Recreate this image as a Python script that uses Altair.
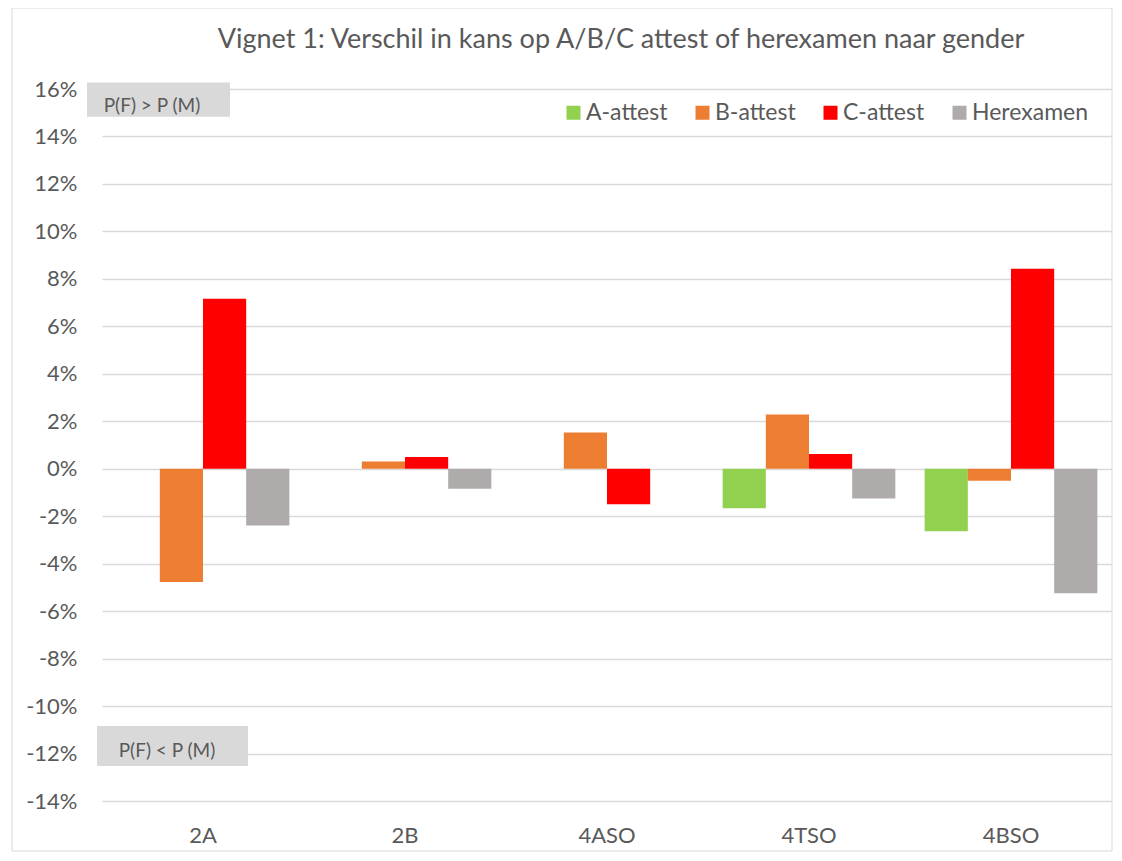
import altair as alt
import pandas as pd

title_text = "Vignet 1: Verschil in kans op A/B/C attest of herexamen naar gender"
categories = ["2A", "2B", "4ASO", "4TSO", "4BSO"]
series = ["A-attest", "B-attest", "C-attest", "Herexamen"]
colors = ["#92D050", "#ED7D31", "#FF0000", "#AFABAB"]
a_attest = [None, None, None, -1.67, -2.63]
b_attest = [-4.77, 0.31, 1.53, 2.29, -0.51]
c_attest = [7.16, 0.49, -1.50, 0.62, 8.43]
herexamen = [-2.39, -0.84, None, -1.25, -5.25]
y_ticks = list(range(-14, 17, 2))

rows = []
for name, vals in zip(series, [a_attest, b_attest, c_attest, herexamen]):
    for cat, v in zip(categories, vals):
        if v is not None:
            rows.append({"cat": cat, "serie": name, "value": v})
df = pd.DataFrame(rows)

FONT = "Lato"
GREY_TXT = "#595959"
W, H = 1010, 712

x_enc = alt.X("cat:N", sort=categories,
              scale=alt.Scale(paddingInner=0.145, paddingOuter=0.0725),
              axis=alt.Axis(title=None, labelAngle=0, domain=False, ticks=False,
                            labelFontSize=22, labelColor=GREY_TXT, labelFont=FONT,
                            labelPadding=24))
y_scale = alt.Scale(domain=[-14, 16], nice=False, zero=False)

bars = alt.Chart(df).mark_bar().encode(
    x=x_enc,
    xOffset=alt.XOffset("serie:N", sort=series, scale=alt.Scale(domain=series)),
    y=alt.Y("value:Q", scale=y_scale,
            axis=alt.Axis(title=None, values=y_ticks, labelExpr="datum.value + '%'",
                          domain=False, ticks=False, grid=True, gridColor="#d9d9d9",
                          gridWidth=1.5, labelFontSize=22, labelColor=GREY_TXT,
                          labelFont=FONT, labelPadding=25)),
    color=alt.Color("serie:N", sort=series,
                    scale=alt.Scale(domain=series, range=colors),
                    legend=alt.Legend(title=None, orient="none", legendX=460, legendY=12,
                                      direction="horizontal", columns=4,
                                      symbolType="square", symbolSize=196,
                                      symbolStrokeWidth=0, labelFontSize=23,
                                      labelColor=GREY_TXT, labelFont=FONT,
                                      columnPadding=23, labelOffset=1)),
)

box_top = alt.Chart(pd.DataFrame({"y1": [16.27], "y2": [14.83]})).mark_rect(color="#d9d9d9").encode(
    x=alt.value(-15), x2=alt.value(128), y=alt.Y("y1:Q", scale=y_scale), y2="y2:Q")
box_bot = alt.Chart(pd.DataFrame({"y1": [-10.84], "y2": [-12.53]})).mark_rect(color="#d9d9d9").encode(
    x=alt.value(-5), x2=alt.value(146), y=alt.Y("y1:Q", scale=y_scale), y2="y2:Q")
txt_top = alt.Chart(pd.DataFrame({"y": [15.3], "t": ["P(F) > P (M)"]})).mark_text(
    font=FONT, fontSize=19, color=GREY_TXT, align="center", baseline="middle").encode(
    x=alt.value(50), y=alt.Y("y:Q", scale=y_scale), text="t:N")
txt_bot = alt.Chart(pd.DataFrame({"y": [-11.9], "t": ["P(F) < P (M)"]})).mark_text(
    font=FONT, fontSize=19, color=GREY_TXT, align="center", baseline="middle").encode(
    x=alt.value(65), y=alt.Y("y:Q", scale=y_scale), text="t:N")

title = alt.Chart(pd.DataFrame({"t": [title_text]})).mark_text(
    font=FONT, fontSize=27, color=GREY_TXT, align="center", baseline="middle").encode(
    x=alt.value(519), y=alt.value(-49), text="t:N")

border = alt.Chart(pd.DataFrame({"a": [0]})).mark_rect(
    fill=None, stroke="#d9d9d9", strokeWidth=1).encode(
    x=alt.value(-90), x2=alt.value(1010), y=alt.value(-81), y2=alt.value(762))

chart = alt.layer(border, bars, box_top, box_bot, txt_top, txt_bot, title).properties(
    width=W, height=H,
    autosize=alt.AutoSizeParams(type="none"),
    padding={"left": 94, "top": 81, "right": 2, "bottom": 52},
).configure_view(stroke=None).configure_bar(
    stroke=None).resolve_scale(y="shared")

chart.save("out.html", embed_options={"renderer": "svg", "actions": False})
